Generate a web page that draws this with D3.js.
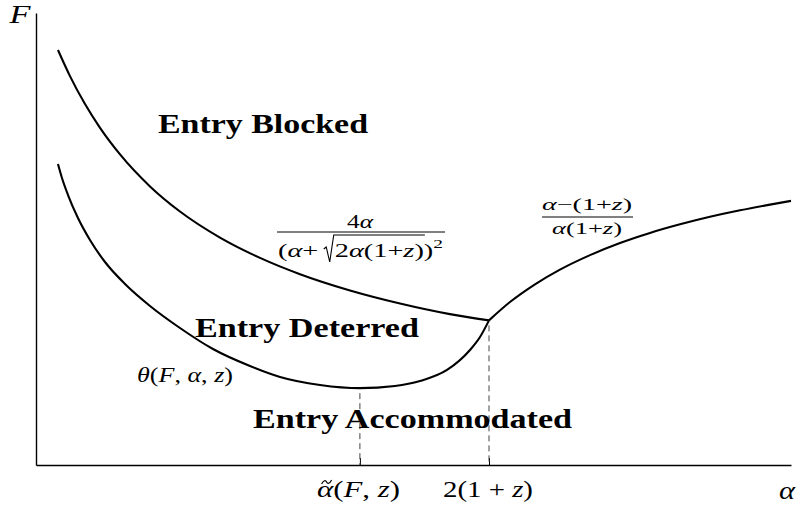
<!DOCTYPE html>
<html>
<head>
<meta charset="utf-8">
<script src="https://cdn.jsdelivr.net/npm/d3@7"></script>
<style>
  body { margin: 0; background: #fff; }
  svg { display: block; }
  text { font-family: "Liberation Serif", "DejaVu Serif", serif; fill: #000; }
  .it { font-style: italic; }
</style>
</head>
<body>
<svg id="chart" width="801" height="505"></svg>
<script>
// Upper boundary: entry-blocking threshold, decreasing in alpha
const upperAlpha = [0.291, 0.450, 0.649, 0.848, 1.113, 1.510, 1.907, 2.437, 2.967, 3.497, 4.159, 4.821, 5.483, 6.0];
const upperF     = [9.181, 8.604, 7.985, 7.460, 6.872, 6.164, 5.608, 5.031, 4.582, 4.221, 3.861, 3.573, 3.338, 3.2];

// Lower boundary theta(F, alpha, z): U-shaped, minimum at alpha-tilde
const lowerAlpha = [0.291, 0.344, 0.424, 0.556, 0.715, 0.914, 1.179, 1.510, 1.907, 2.344, 2.834, 3.232, 3.762, 4.29, 4.755, 5.086, 5.444, 5.748, 5.881, 6.0];
const lowerF     = [6.659, 6.350, 5.973, 5.465, 4.978, 4.491, 4.004, 3.518, 3.031, 2.566, 2.190, 1.947, 1.770, 1.70, 1.748, 1.858, 2.102, 2.544, 2.832, 3.2];

// Rising branch beyond 2(1+z)
const risingAlpha = [6.0, 6.278, 6.609, 6.940, 7.338, 7.735, 8.132, 8.530, 8.927, 9.325, 9.722, 10.0];
const risingF     = [3.2, 3.606, 3.998, 4.323, 4.644, 4.912, 5.135, 5.325, 5.491, 5.635, 5.761, 5.843];

// Marked points on the alpha axis
const tickAlpha = [4.29, 6.0];
const regionLabels = ["Entry Blocked", "Entry Deterred", "Entry Accommodated"];

const svg = d3.select("#chart");
const x = d3.scaleLinear().domain([0, 10]).range([36, 791]);
const y = d3.scaleLinear().domain([0, 10]).range([465, 13]);

// Axes
const xAxis = svg.append("g").attr("transform", `translate(0,${y(0)})`)
  .call(d3.axisBottom(x).tickValues(tickAlpha).tickSize(-7).tickSizeOuter(0).tickFormat(""));
const yAxis = svg.append("g").attr("transform", `translate(${x(0)},0)`)
  .call(d3.axisLeft(y).tickValues([]).tickSizeOuter(0));
svg.selectAll(".domain").attr("stroke", "#000").attr("stroke-width", 1.4);
xAxis.selectAll(".tick line").attr("stroke", "#000").attr("stroke-width", 1);

// Dashed guides from the curve down to the axis
const guideTop = [lowerF[lowerAlpha.indexOf(tickAlpha[0])], upperF[upperF.length - 1]];
svg.append("g").selectAll("line").data(tickAlpha).join("line")
  .attr("x1", d => x(d)).attr("x2", d => x(d))
  .attr("y1", (d, i) => y(guideTop[i]) + 5).attr("y2", y(0))
  .attr("stroke", "#444").attr("stroke-width", 1).attr("stroke-dasharray", "6,4");

// Curves
const line = d3.line().x(d => x(d[0])).y(d => y(d[1])).curve(d3.curveMonotoneX);
const curves = [
  d3.zip(upperAlpha, upperF),
  d3.zip(lowerAlpha, lowerF),
  d3.zip(risingAlpha, risingF)
];
svg.append("g").selectAll("path").data(curves).join("path")
  .attr("d", line).attr("fill", "none").attr("stroke", "#000")
  .attr("stroke-width", 2.1).attr("stroke-linejoin", "round");

// Helper: text built from [string, italic?] pieces
function mathText(parent, pieces, px, py, size, anchor, width) {
  const t = parent.append("text").attr("x", px).attr("y", py)
    .attr("font-size", size).attr("text-anchor", anchor);
  pieces.forEach(p => {
    const s = t.append("tspan").text(p[0]);
    if (p[1]) s.attr("class", "it");
  });
  if (width) t.attr("textLength", width).attr("lengthAdjust", "spacingAndGlyphs");
  return t;
}

// Axis titles
mathText(svg, [["F", true]], 20, 23, 26, "middle", 21);
mathText(svg, [["α", true]], 787, 498.5, 26, "middle", 16);

// Tick labels
const tl = mathText(svg, [["α", true], ["(", false], ["F", true], [", ", false], ["z", true], [")", false]],
  358.5, 497, 24, "middle", 83);
{
  const n = tl.node();
  const a0 = n.getStartPositionOfChar(0).x, a1 = n.getEndPositionOfChar(0).x;
  const cx = (a0 + a1) / 2 + 1.5;
  svg.append("path")
    .attr("d", `M${cx - 5},${484} C${cx - 3},${480} ${cx - 1},${480} ${cx},${482} S${cx + 3},${484} ${cx + 5},${480}`)
    .attr("fill", "none").attr("stroke", "#000").attr("stroke-width", 1.2);
}
mathText(svg, [["2(1 + ", false], ["z", true], [")", false]], 488, 497, 24, "middle", 90);

// Region labels
const regionPos = [[158, 133, 210], [195, 337, 224], [253, 428, 319]];
svg.append("g").selectAll("text").data(regionLabels).join("text")
  .attr("x", (d, i) => regionPos[i][0]).attr("y", (d, i) => regionPos[i][1])
  .attr("font-size", 27).attr("font-weight", "bold")
  .attr("textLength", (d, i) => regionPos[i][2]).attr("lengthAdjust", "spacingAndGlyphs")
  .text(d => d);

// theta label
mathText(svg, [["θ", true], ["(", false], ["F", true], [", ", false], ["α", true], [", ", false], ["z", true], [")", false]],
  137, 382, 21, "start", 96);

// Fraction: 4α / (α + √(2α(1+z)))²
const f1 = svg.append("g");
mathText(f1, [["4", false], ["α", true]], 360, 228, 18, "middle", 26);
f1.append("line").attr("x1", 277).attr("x2", 445).attr("y1", 232).attr("y2", 232)
  .attr("stroke", "#000").attr("stroke-width", 1);
const den = f1.append("text").attr("x", 278).attr("y", 257).attr("font-size", 19);
den.append("tspan").text("(");
den.append("tspan").attr("class", "it").text("α");
den.append("tspan").text("+");
den.append("tspan").attr("dx", 11).text("2");
den.append("tspan").attr("class", "it").text("α");
den.append("tspan").text("(1+");
den.append("tspan").attr("class", "it").text("z");
den.append("tspan").text("))");
den.append("tspan").attr("font-size", 13).attr("dy", -9).text("2");
den.attr("textLength", 165).attr("lengthAdjust", "spacingAndGlyphs");
{
  const node = den.node();
  const sx = node.getStartPositionOfChar(3).x;
  const ex = node.getEndPositionOfChar(9).x;
  const by = 257;
  f1.append("path")
    .attr("d", `M${sx - 11},${by - 8} L${sx - 8.5},${by - 10} L${sx - 5},${by + 5} L${sx - 1},${by - 22} L${ex + 1},${by - 22}`)
    .attr("fill", "none").attr("stroke", "#000").attr("stroke-width", 1.1).attr("stroke-linejoin", "miter");
}

// Fraction: (α − (1+z)) / (α(1+z))
const f2 = svg.append("g");
mathText(f2, [["α", true], ["−(1+", false], ["z", true], [")", false]], 587, 210, 17, "middle", 90);
f2.append("line").attr("x1", 542).attr("x2", 633).attr("y1", 217).attr("y2", 217)
  .attr("stroke", "#000").attr("stroke-width", 1);
mathText(f2, [["α", true], ["(1+", false], ["z", true], [")", false]], 587, 234, 17, "middle", 70);
</script>
</body>
</html>
